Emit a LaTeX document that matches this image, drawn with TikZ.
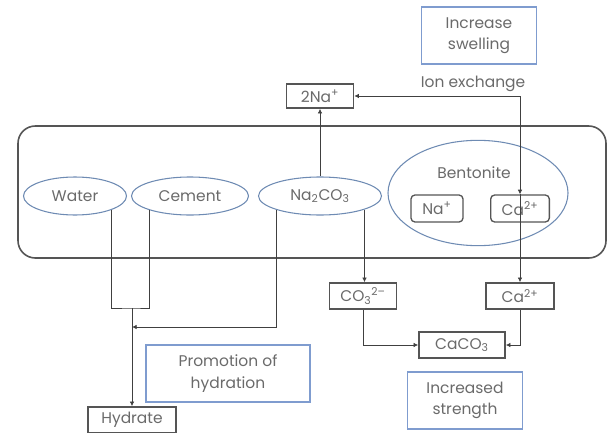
\documentclass[tikz,border=0pt]{standalone}
\usepackage{fontspec}
\setmainfont{Poppins}
\usetikzlibrary{arrows.meta, shapes.geometric}

\definecolor{textgray}{HTML}{6A6A6A}
\definecolor{ringblue}{HTML}{6E8BB3}
\definecolor{noteblue}{HTML}{7F9CCF}
\definecolor{boxgray}{HTML}{555555}

\tikzset{
	every node/.style = {text = textgray, font = \fontsize{11.6}{16}\selectfont, inner sep = 0pt, align = center},
	ingredient/.style = {ellipse, draw = ringblue, line width = 0.8pt, minimum height = 28.5pt},
	chem/.style = {rectangle, draw = boxgray, line width = 1.2pt, minimum height = 19.5pt},
	ion/.style = {rectangle, rounded corners = 3pt, draw = boxgray, line width = 1pt, minimum height = 20.25pt},
	note/.style = {rectangle, draw = noteblue, line width = 0.9pt, minimum width = 86pt, minimum height = 42.75pt},
	link/.style = {draw = black!75, line width = 0.6pt}
}

\begin{document}
\begin{tikzpicture}[x = 0.75pt, y = -0.75pt, > = {Latex[length = 3.5pt, width = 3.5pt]}]

	% Frame

	\useasboundingbox (0, 0) rectangle (609, 432);
	\draw [boxgray, line width = 1.2pt, rounded corners = 13pt] (18, 126) rectangle (606, 258);

	% Mixture

	\node [ingredient, minimum width = 77.25pt] (water) at (75, 196) {Water};
	\node [ingredient, minimum width = 87.75pt] (cement) at (190, 196) {Cement};
	\node [ingredient, minimum width = 92.25pt] (soda) at (320, 196) {Na\textsubscript{2}CO\textsubscript{3}};
	\node [ingredient, minimum width = 135pt, minimum height = 79pt] (bentonite) at (478, 193) {};
	\node (bentlabel) at (474, 173) {Bentonite};
	\node [ion, minimum width = 39pt] (naion) at (437, 208.5) {Na\textsuperscript{+}};
	\node [ion, minimum width = 44pt] (caion) at (520, 208.5) {Ca\textsuperscript{2+}};

	% Products

	\node [chem, minimum width = 50.25pt, minimum height = 18pt] (sodium) at (320, 96) {2Na\textsuperscript{+}};
	\node [chem, minimum width = 50.25pt] (carbonate) at (363, 296) {CO\textsubscript{3}\textsuperscript{2--}};
	\node [chem, minimum width = 51pt] (calcium) at (520, 296) {Ca\textsuperscript{2+}};
	\node [chem, minimum width = 64.5pt] (calcite) at (462, 345) {CaCO\textsubscript{3}};
	\node [chem, minimum width = 66pt] (hydrate) at (132, 420) {Hydrate};

	% Notes

	\node [note] (swelling) at (479, 35.5) {Increase\\swelling};
	\node [note, minimum width = 123pt] (promotion) at (228, 373.5) {Promotion of\\hydration};
	\node [note] (strength) at (465, 400.5) {Increased\\strength};
	\node (exchange) at (473, 84) {Ion exchange};

	% Connectors

	\coordinate (swap) at (520, 96);
	\coordinate (mixjoin) at (132, 308);
	\coordinate (sodajoin) at (132, 327);

	\draw [link, ->] (swap) -- (sodium.east);
	\draw [link, ->] (swap) -- (caion.north);
	\draw [link, ->] (caion.north) -- (calcium.north);
	\draw [link, ->] (soda.north) -- (sodium.south);

	\draw [link] (water.-21) |- (mixjoin) -| (cement.-161);
	\draw [link, ->] (mixjoin) -- (hydrate.north);
	\draw [link, ->] (soda.-162.5) |- (sodajoin);
	\draw [link, ->] (soda.-17.5) -- (soda.-17.5 |- carbonate.north);

	\draw [link, ->] (carbonate.south) |- (calcite.west);
	\draw [link, ->] (calcium.south) |- (calcite.east);

\end{tikzpicture}
\end{document}
